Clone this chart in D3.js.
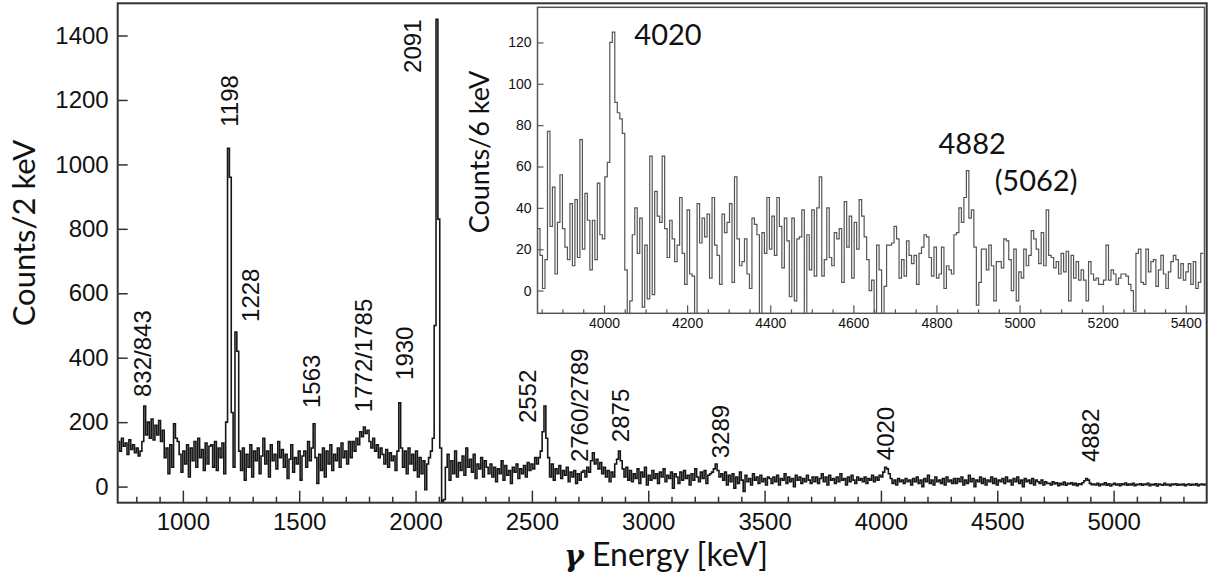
<!DOCTYPE html>
<html>
<head>
<meta charset="utf-8">
<script src="https://cdn.jsdelivr.net/npm/d3@7"></script>
<style>
  body { margin: 0; background: #fff; }
  svg { display: block; }
  .tick text { fill: #111; }
</style>
</head>
<body>
<svg id="chart" width="1210" height="575"></svg>
<script>
const mainStart = 720;
const mainStep = 8;
const mainCounts = [
  140,110,150,125,135,100,145,115,130,105,120,95,110,140,250,160,200,150,210,145,190,160,205,140,175,
  90,120,40,130,60,195,150,140,100,45,110,70,130,30,120,80,140,60,150,90,115,50,135,70,125,
  130,60,140,50,120,90,135,40,200,1050,960,230,60,480,420,110,50,120,20,100,60,130,30,110,80,
  120,40,95,150,70,110,30,130,80,100,55,140,90,115,60,100,25,85,130,45,90,70,110,20,95,
  110,60,140,80,120,195,90,10,100,50,120,30,110,70,130,50,100,80,120,60,135,90,110,70,140,
  90,140,110,150,130,170,155,185,165,175,140,120,150,110,130,90,120,100,70,115,60,105,80,95,50,
  110,260,120,60,110,40,120,70,100,50,110,30,90,40,80,-10,70,90,110,150,500,1450,830,120,-45,
  -40,60,100,20,80,40,110,30,75,50,95,35,120,60,85,45,100,25,70,55,90,30,80,60,40,
  70,30,60,15,55,40,80,20,65,35,50,10,60,45,70,25,55,40,65,30,75,50,70,55,90,
  70,90,110,170,250,150,90,30,70,20,55,40,65,25,50,35,60,15,45,30,50,10,40,20,45,
  50,30,60,45,80,105,70,85,55,75,40,60,30,50,15,45,30,70,85,110,80,55,30,60,20,
  50,15,40,25,55,10,45,30,60,5,35,20,50,25,40,10,45,30,55,15,35,25,45,-5,40,
  30,10,45,20,50,25,35,5,40,20,55,30,15,45,25,50,10,35,40,45,55,70,50,30,40,
  20,45,5,35,15,40,-5,30,10,45,20,-15,35,15,25,5,40,20,30,10,35,15,25,5,30,
  25,10,30,15,35,5,25,20,40,10,30,15,25,0,35,20,30,10,25,15,35,20,10,30,15,
  30,10,25,40,15,30,5,35,20,25,10,30,15,40,20,25,5,30,15,35,20,10,30,20,25,
  15,30,10,25,20,35,15,30,20,35,30,45,60,55,40,25,10,20,5,25,15,20,10,25,15,
  20,5,25,15,30,10,20,0,25,15,35,10,20,5,30,15,20,10,25,5,30,15,20,10,25,
  10,25,15,30,5,20,10,35,15,25,0,20,15,30,10,25,5,20,15,30,10,25,5,20,15,
  25,10,30,15,20,5,25,15,30,10,20,0,25,15,20,10,25,5,20,15,10,20,5,15,10,
  10,5,15,8,12,3,10,6,14,4,10,8,12,5,10,3,9,7,12,18,25,20,10,6,8,
  5,10,3,8,6,12,4,9,2,7,10,5,8,3,9,6,11,4,8,5,10,3,7,6,9,
  4,8,6,10,3,7,5,9,2,8,6,4,10,5,7,3,8,6,9,4,7,5,8,3,6,
  8,4,7,5,9,3,6,8,5,7
];

// inset spectrum, counts per 6 keV from 3840 keV
const insetStart = 3840;
const insetStep = 6;
const insetCounts = [
  30,17,1,15,77,31,50,8,33,56,30,21,15,42,12,44,16,73,20,47,
  34,10,34,15,52,27,25,55,62,120,125,91,86,83,76,10,-15,-5,27,40,
  18,35,-8,22,-4,65,-2,48,36,33,65,30,16,34,25,14,22,45,18,3,
  39,8,7,-15,42,23,35,26,37,6,45,22,17,3,37,28,33,42,4,55,
  25,12,14,25,8,1,35,32,27,-15,
  28,18,45,20,36,17,45,31,11,35,24,-3,35,-5,25,26,39,-15,27,10,
  39,7,40,55,7,15,40,16,12,28,25,30,4,43,21,36,6,33,20,44,
  36,26,15,0,5,-15,22,10,-15,2,22,22,23,31,25,6,15,7,24,17,
  13,17,3,18,21,27,26,16,7,21,6,8,21,1,12,10,8,27,28,40,
  33,45,58,35,39,21,-7,4,20,
  20,10,22,12,-5,14,14,11,25,24,15,0,20,-5,9,6,20,12,17,29,
  25,20,13,28,12,39,17,16,11,14,8,18,9,19,-5,17,6,14,5,10,
  5,-5,14,8,5,6,3,3,5,22,5,10,8,3,6,8,8,7,3,0,
  -10,18,20,4,3,20,9,14,15,2,10,17,8,1,9,14,17,15,6,13,
  5,9,13,3,14,1,4,18
];

const mainXTicks = [1000, 1500, 2000, 2500, 3000, 3500, 4000, 4500, 5000];
const mainYTicks = [0, 200, 400, 600, 800, 1000, 1200, 1400];
const insetXTicks = [4000, 4200, 4400, 4600, 4800, 5000, 5200, 5400];
const insetYTicks = [0, 20, 40, 60, 80, 100, 120];

// peak labels: text, energy and count where the rotated label starts
const peakLabels = [
  {text: '832/843',   e: 824,  c: 278},
  {text: '1198',      e: 1198, c: 1117},
  {text: '1228',      e: 1289, c: 511},
  {text: '1563',      e: 1551, c: 244},
  {text: '1772/1785', e: 1774, c: 231},
  {text: '1930',      e: 1951, c: 331},
  {text: '2091',      e: 1985, c: 1284},
  {text: '2552',      e: 2479, c: 197},
  {text: '2760/2789', e: 2703, c: 76},
  {text: '2875',      e: 2879, c: 138},
  {text: '3289',      e: 3309, c: 88},
  {text: '4020',      e: 4019, c: 82},
  {text: '4882',      e: 4900, c: 76}
];

const insetLabels = [
  {text: '4020',   e: 4073, c: 119},
  {text: '4882',   e: 4805, c: 66},
  {text: '(5062)', e: 4940, c: 48}
];

const svg = d3.select('#chart');

const x = d3.scaleLinear().domain([720, 5400]).range([117.7, 1206.7]);
const y = d3.scaleLinear().domain([-50, 1500]).range([502.7, 3.3]);

const xi = d3.scaleLinear().domain([3840, 5445]).range([537.5, 1204.5]);
const yi = d3.scaleLinear().domain([-11, 137]).range([313.3, 7.3]);

function binPoints(start, step, counts){
  const pts = counts.map(function(v, i){ return {e: start + i*step, v: v}; });
  pts.push({e: start + counts.length*step, v: counts[counts.length-1]});
  return pts;
}

// clip paths
const defs = svg.append('defs');
defs.append('clipPath').attr('id', 'clip-main')
  .append('rect')
  .attr('x', x.range()[0]).attr('y', y.range()[1])
  .attr('width', x.range()[1]-x.range()[0])
  .attr('height', y.range()[0]-y.range()[1]);
defs.append('clipPath').attr('id', 'clip-inset')
  .append('rect')
  .attr('x', xi.range()[0]).attr('y', yi.range()[1])
  .attr('width', xi.range()[1]-xi.range()[0])
  .attr('height', yi.range()[0]-yi.range()[1]);

// main spectrum
const mainLine = d3.line()
  .x(function(d){ return x(d.e); })
  .y(function(d){ return y(d.v); })
  .curve(d3.curveStepAfter);

svg.append('path')
  .datum(binPoints(mainStart, mainStep, mainCounts))
  .attr('clip-path', 'url(#clip-main)')
  .attr('d', mainLine)
  .attr('fill', 'none')
  .attr('stroke', '#161616')
  .attr('stroke-width', 1.6);

// main axes, ticks inside the frame
const gx = svg.append('g')
  .attr('transform', 'translate(0,' + y.range()[0] + ')')
  .call(d3.axisBottom(x).tickValues(mainXTicks).tickSize(-12).tickPadding(10).tickFormat(d3.format('d')));
svg.append('g')
  .attr('transform', 'translate(0,' + y.range()[0] + ')')
  .call(d3.axisBottom(x).tickValues(d3.range(800, 5400, 100).filter(function(d){ return d % 500 !== 0; }))
    .tickSize(-6).tickFormat(''));
const gy = svg.append('g')
  .attr('transform', 'translate(' + x.range()[0] + ',0)')
  .call(d3.axisLeft(y).tickValues(mainYTicks).tickSize(-10).tickPadding(9).tickFormat(d3.format('d')));

svg.selectAll('.domain').remove();
svg.selectAll('.tick line').attr('stroke', '#333').attr('stroke-width', 1.5);
gx.selectAll('text').style('font-family', '"Liberation Sans", Arial, sans-serif').style('font-size', '24px');
gy.selectAll('text').style('font-family', '"Liberation Sans", Arial, sans-serif').style('font-size', '24px');

svg.append('rect')
  .attr('x', x.range()[0]).attr('y', y.range()[1])
  .attr('width', x.range()[1]-x.range()[0])
  .attr('height', y.range()[0]-y.range()[1])
  .attr('fill', 'none')
  .attr('stroke', '#333')
  .attr('stroke-width', 2);

// peak labels
svg.append('g').selectAll('text')
  .data(peakLabels)
  .join('text')
  .attr('transform', function(d){ return 'translate(' + x(d.e) + ',' + y(d.c) + ') rotate(-90)'; })
  .attr('dy', '0.36em')
  .style('font-family', '"Liberation Sans", Arial, sans-serif')
  .style('font-size', '24px')
  .attr('fill', '#111')
  .text(function(d){ return d.text; });

// axis titles
svg.append('text')
  .attr('transform', 'translate(24,233) rotate(-90)')
  .attr('text-anchor', 'middle')
  .attr('dy', '0.35em')
  .style('font-family', 'Lato, sans-serif')
  .style('font-size', '31px')
  .attr('fill', '#111')
  .text('Counts/2 keV');

const xt = svg.append('text')
  .attr('x', 666).attr('y', 566)
  .attr('text-anchor', 'middle')
  .attr('fill', '#111');
xt.append('tspan')
  .style('font-family', '"DejaVu Serif", serif')
  .style('font-style', 'italic')
  .style('font-weight', 'bold')
  .style('font-size', '30px')
  .text('γ');
xt.append('tspan')
  .style('font-family', 'Lato, sans-serif')
  .style('font-size', '32px')
  .text(' Energy [keV]');

// inset
const inset = svg.append('g').attr('id', 'inset');

inset.append('path')
  .datum(binPoints(insetStart, insetStep, insetCounts))
  .attr('clip-path', 'url(#clip-inset)')
  .attr('d', d3.line()
    .x(function(d){ return xi(d.e); })
    .y(function(d){ return yi(d.v); })
    .curve(d3.curveStepAfter))
  .attr('fill', 'none')
  .attr('stroke', '#555')
  .attr('stroke-width', 1.2);

const gxi = inset.append('g')
  .attr('transform', 'translate(0,' + yi.range()[0] + ')')
  .call(d3.axisBottom(xi).tickValues(insetXTicks).tickSize(-8).tickPadding(5).tickFormat(d3.format('d')));
inset.append('g')
  .attr('transform', 'translate(0,' + yi.range()[0] + ')')
  .call(d3.axisBottom(xi).tickValues(d3.range(3850, 5445, 50).filter(function(d){ return d % 200 !== 0; }))
    .tickSize(-4).tickFormat(''));
const gyi = inset.append('g')
  .attr('transform', 'translate(' + xi.range()[0] + ',0)')
  .call(d3.axisLeft(yi).tickValues(insetYTicks).tickSize(-6).tickPadding(6).tickFormat(d3.format('d')));

inset.selectAll('.domain').remove();
inset.selectAll('.tick line').attr('stroke', '#555').attr('stroke-width', 1.2);
gxi.selectAll('text').style('font-family', '"Liberation Sans", Arial, sans-serif').style('font-size', '14px');
gyi.selectAll('text').style('font-family', '"Liberation Sans", Arial, sans-serif').style('font-size', '14px');

inset.append('rect')
  .attr('x', xi.range()[0]).attr('y', yi.range()[1])
  .attr('width', xi.range()[1]-xi.range()[0])
  .attr('height', yi.range()[0]-yi.range()[1])
  .attr('fill', 'none')
  .attr('stroke', '#555')
  .attr('stroke-width', 1.5);

inset.append('text')
  .attr('transform', 'translate(480,152) rotate(-90)')
  .attr('text-anchor', 'middle')
  .attr('dy', '0.35em')
  .style('font-family', 'Lato, sans-serif')
  .style('font-size', '27px')
  .attr('fill', '#111')
  .text('Counts/6 keV');

inset.selectAll('.peak')
  .data(insetLabels)
  .join('text')
  .attr('class', 'peak')
  .attr('x', function(d){ return xi(d.e); })
  .attr('y', function(d){ return yi(d.c); })
  .style('font-family', 'Lato, sans-serif')
  .style('font-size', '29px')
  .attr('fill', '#111')
  .text(function(d){ return d.text; });
</script>
</body>
</html>
